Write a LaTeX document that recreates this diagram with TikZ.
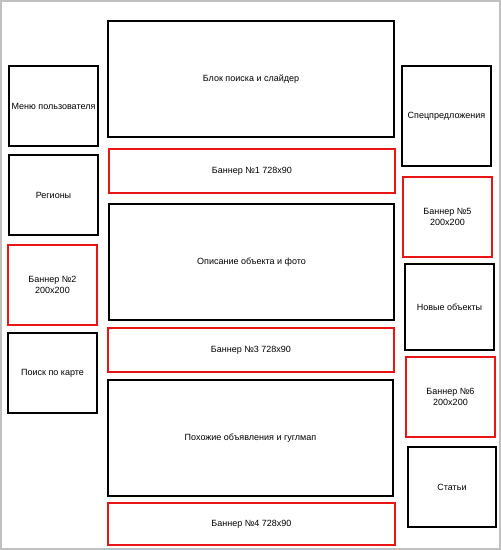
\documentclass[tikz,border=0pt]{standalone}
\usepackage{fontspec}
\setmainfont{Liberation Sans}
\definecolor{redb}{RGB}{235,20,20}
\definecolor{frame}{RGB}{192,192,192}
\begin{document}
\begin{tikzpicture}[x=1pt,y=-1pt,
  bx/.style={draw=black,line width=2pt,inner sep=0pt,align=center,font=\fontsize{9}{11}\selectfont},
  rb/.style={bx,draw=redb}]
\useasboundingbox (0,0) rectangle (501,550);
\draw[frame,line width=1.5pt] (1,1) rectangle (500,549);
% left column
\node[bx,minimum width=89pt,minimum height=80pt] (menu) at (53.5,106) {Меню пользователя};
\node[bx,minimum width=89pt,minimum height=80pt] (reg) at (53.5,195) {Регионы};
\node[rb,minimum width=89pt,minimum height=80pt] (b2) at (52.5,285) {Баннер №2\\200x200};
\node[bx,minimum width=89pt,minimum height=80pt] (map) at (52.5,373) {Поиск по карте};
% center column
\node[bx,minimum width=286pt,minimum height=116pt] (search) at (251,79) {Блок поиска и слайдер};
\node[rb,minimum width=286pt,minimum height=44pt] (b1) at (252,171) {Баннер №1 728x90};
\node[bx,minimum width=285pt,minimum height=116pt] (desc) at (251.5,262) {Описание объекта и фото};
\node[rb,minimum width=286pt,minimum height=44pt] (b3) at (251,350) {Баннер №3 728x90};
\node[bx,minimum width=285pt,minimum height=116pt] (sim) at (250.5,438) {Похожие объявления и гуглмап};
\node[rb,minimum width=287pt,minimum height=42pt] (b4) at (251.5,524) {Баннер №4 728x90};
% right column
\node[bx,minimum width=89pt,minimum height=100pt] (spec) at (446.5,116) {Спецпредложения};
\node[rb,minimum width=89pt,minimum height=80pt] (b5) at (447.5,217) {Баннер №5\\200x200};
\node[bx,minimum width=89pt,minimum height=86pt] (new) at (449.5,307) {Новые объекты};
\node[rb,minimum width=89pt,minimum height=80pt] (b6) at (450.5,397) {Баннер №6\\200x200};
\node[bx,minimum width=88pt,minimum height=80pt] (art) at (452,487) {Статьи};
\end{tikzpicture}
\end{document}
